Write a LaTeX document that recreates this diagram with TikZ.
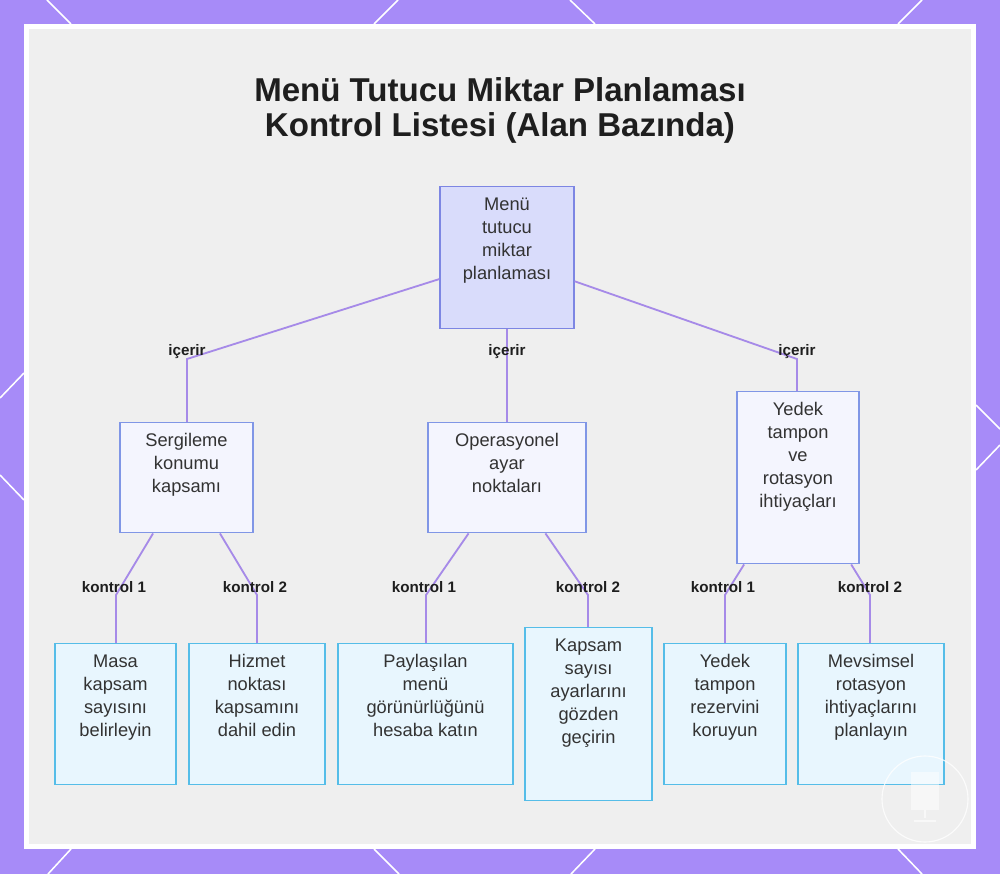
\documentclass[tikz,border=0pt]{standalone}
\usepackage{fontspec}
\setmainfont{Liberation Sans}
\usetikzlibrary{positioning}
\usepackage{xcolor}
\definecolor{framepurple}{HTML}{A78BF8}
\definecolor{panelgray}{HTML}{EFEFEF}
\definecolor{edgepurple}{HTML}{A68AE8}
\definecolor{rootfill}{HTML}{D9DCFB}
\definecolor{rootdraw}{HTML}{7D86E3}
\definecolor{midfill}{HTML}{F4F5FE}
\definecolor{middraw}{HTML}{8096E6}
\definecolor{leaffill}{HTML}{E8F6FE}
\definecolor{leafdraw}{HTML}{55BDE8}
\definecolor{textgray}{HTML}{333333}
\definecolor{titleblack}{HTML}{1E1E1E}
% top-aligned stack of centred lines
\newcommand{\toplines}[1]{\begin{tabular}[t]{@{}c@{}}#1\end{tabular}}

\begin{document}
\begin{tikzpicture}[
    x=0.025cm, y=-0.025cm,
    box/.style={draw, line width=1pt, anchor=north, inner xsep=2pt, inner ysep=0pt,
        text height=0.6cm, text=textgray, font=\fontsize{13}{16.4}\selectfont},
    rootbox/.style={box, fill=rootfill, draw=rootdraw},
    midbox/.style={box, fill=midfill, draw=middraw},
    leafbox/.style={box, fill=leaffill, draw=leafdraw},
    elabel/.style={font=\fontsize{10.8}{12}\selectfont\bfseries, text=titleblack, inner sep=1pt},
    edge/.style={draw=edgepurple, line width=1.3pt},
    deco/.style={white, line width=1.1pt},
]
\useasboundingbox (0,0) rectangle (1000,874);

% Frame
\fill[framepurple] (0,0) rectangle (1000,874);
\fill[white] (24,24) rectangle (976,849);
\fill[panelgray] (29,29) rectangle (971,844);
\draw[deco] (47,0) -- (71,24);
\draw[deco] (398,0) -- (374,24);
\draw[deco] (570,0) -- (595,24);
\draw[deco] (922,0) -- (898,24);
\draw[deco] (71,849) -- (48,874);
\draw[deco] (374,849) -- (399,874);
\draw[deco] (595,849) -- (571,874);
\draw[deco] (898,849) -- (922,874);
\draw[deco] (0,398) -- (24,373);
\draw[deco] (0,475) -- (24,500);
\draw[deco] (976,405) -- (1000,429);
\draw[deco] (1000,445) -- (976,470);

% Title
\node[font=\fontsize{23.5}{24.9}\selectfont\bfseries, text=titleblack, align=center] (title) at (500,110)
    {Menü Tutucu Miktar Planlaması\\Kontrol Listesi (Alan Bazında)};

% Root
\node[rootbox, minimum width=3.35cm, text depth=2.95cm] (root) at (507,186) {\toplines{Menü\\tutucu\\miktar\\planlaması}};

% Areas
\node[midbox, minimum width=3.325cm, text depth=2.15cm] (sergi) at (186.5,422) {\toplines{Sergileme\\konumu\\kapsamı}};
\node[midbox, minimum width=3.95cm, text depth=2.15cm] (opera) at (507,422) {\toplines{Operasyonel\\ayar\\noktaları}};
\node[midbox, minimum width=3.05cm, text depth=3.7cm] (yedek) at (798,391) {\toplines{Yedek\\tampon\\ve\\rotasyon\\ihtiyaçları}};

% Checks
\node[leafbox, minimum width=3.025cm, text depth=2.925cm] (masa) at (115.5,643) {\toplines{Masa\\kapsam\\sayısını\\belirleyin}};
\node[leafbox, minimum width=3.4cm, text depth=2.925cm] (hizmet) at (257,643) {\toplines{Hizmet\\noktası\\kapsamını\\dahil edin}};
\node[leafbox, minimum width=4.375cm, text depth=2.925cm] (paylas) at (425.5,643) {\toplines{Paylaşılan\\menü\\görünürlüğünü\\hesaba katın}};
\node[leafbox, minimum width=3.175cm, text depth=3.725cm] (kapsam) at (588.5,627) {\toplines{Kapsam\\sayısı\\ayarlarını\\gözden\\geçirin}};
\node[leafbox, minimum width=3.05cm, text depth=2.925cm] (tampon) at (725,643) {\toplines{Yedek\\tampon\\rezervini\\koruyun}};
\node[leafbox, minimum width=3.65cm, text depth=2.925cm] (mevsim) at (871,643) {\toplines{Mevsimsel\\rotasyon\\ihtiyaçlarını\\planlayın}};

% Bends
\coordinate (b1) at (187,359);
\coordinate (b2) at (507,359);
\coordinate (b3) at (797,359);
\coordinate (k1) at (116,595);
\coordinate (k2) at (257,595);
\coordinate (k3) at (426,595);
\coordinate (k4) at (588,595);
\coordinate (k5) at (725,595);
\coordinate (k6) at (870,595);

% Connectors
\draw[edge] (root) -- (b1) -- (b1 |- sergi.north);
\draw[edge] (root) -- (b2) -- (b2 |- opera.north);
\draw[edge] (root) -- (b3) -- (b3 |- yedek.north);
\draw[edge] (sergi) -- (k1) -- (k1 |- masa.north);
\draw[edge] (sergi) -- (k2) -- (k2 |- hizmet.north);
\draw[edge] (opera) -- (k3) -- (k3 |- paylas.north);
\draw[edge] (opera) -- (k4) -- (k4 |- kapsam.north);
\draw[edge] (yedek) -- (k5) -- (k5 |- tampon.north);
\draw[edge] (yedek) -- (k6) -- (k6 |- mevsim.north);

% Edge labels
\node[elabel] (l1) at ([yshift=0.175cm]b1) {içerir};
\node[elabel] (l2) at ([yshift=0.175cm]b2) {içerir};
\node[elabel] (l3) at ([yshift=0.175cm]b3) {içerir};
\node[elabel] (m1) at ([xshift=-0.05cm, yshift=0.2cm]k1) {kontrol 1};
\node[elabel] (m2) at ([xshift=-0.05cm, yshift=0.2cm]k2) {kontrol 2};
\node[elabel] (m3) at ([xshift=-0.05cm, yshift=0.2cm]k3) {kontrol 1};
\node[elabel] (m4) at ([yshift=0.2cm]k4) {kontrol 2};
\node[elabel] (m5) at ([xshift=-0.05cm, yshift=0.2cm]k5) {kontrol 1};
\node[elabel] (m6) at ([yshift=0.2cm]k6) {kontrol 2};

% Watermark
\draw[white, opacity=0.8, line width=0.8pt] (925,799) circle (43);
\fill[white, opacity=0.5] (911,772) rectangle (939,810);
\draw[white, opacity=0.6, line width=0.8pt] (925,810) -- (925,818) (914,821) -- (936,821);

\end{tikzpicture}
\end{document}
